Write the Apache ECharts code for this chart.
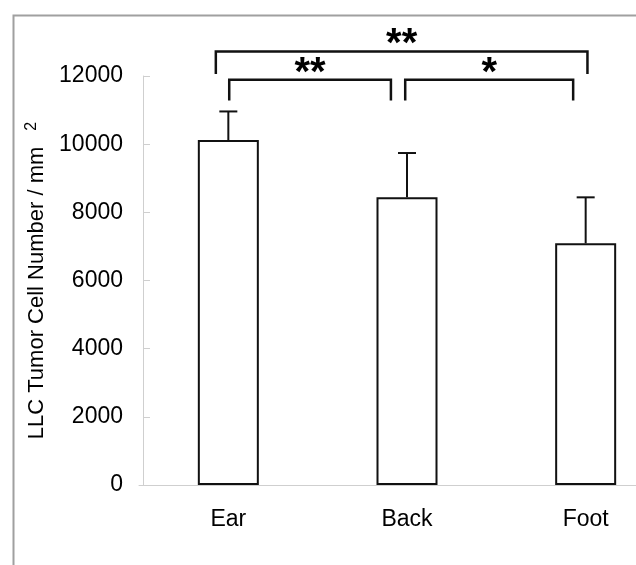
<!DOCTYPE html>
<html>
<head>
<meta charset="utf-8">
<script src="https://cdn.jsdelivr.net/npm/echarts@6/dist/echarts.min.js"></script>
<style>
  html, body { margin: 0; padding: 0; background: #fff; }
  #chart { width: 636px; height: 565px; }
</style>
</head>
<body>
<div id="chart"></div>
<script>
// 数据
const categories = ['Ear', 'Back', 'Foot']
const means = [10120, 8440, 7090]
const sds = [840, 1300, 1350]
const yTicks = { min: 0, max: 12000, interval: 2000 }

// 显著性括号（类目坐标 + 数值坐标）
const bracketFrom = [-0.07, 0.005, 0.99]
const bracketTo = [2.01, 0.91, 1.93]
const bracketY = [12720, 11890, 11890]
const bracketDrop = [12060, 11280, 11280]
const bracketLabels = ['**', '**', '*']

const FONT = 'Liberation Sans, Arial, sans-serif'

const chart = echarts.init(document.getElementById('chart'))

const option = {
  animation: false,
  backgroundColor: '#fff',
  graphic: [
    {
      type: 'rect',
      left: 11,
      top: 13,
      shape: { width: 700, height: 700 },
      style: { fill: 'none', stroke: '#a0a0a0', lineWidth: 2 },
      z: -1
    }
  ],
  grid: { left: 139, top: 76, width: 536, height: 409, outerBoundsMode: 'none', containLabel: false },
  xAxis: {
    type: 'category',
    data: categories,
    axisLine: { lineStyle: { color: '#cfcfcf', width: 1 } },
    axisTick: { inside: true, length: 6, lineStyle: { color: '#cfcfcf' } },
    axisLabel: { fontSize: 23, color: '#000', fontFamily: FONT, margin: 23 }
  },
  yAxis: {
    type: 'value',
    min: yTicks.min,
    max: yTicks.max,
    interval: yTicks.interval,
    offset: -4,
    splitLine: { show: false },
    axisLine: { show: true, lineStyle: { color: '#cfcfcf', width: 1 } },
    axisTick: { show: true, inside: true, length: 7, lineStyle: { color: '#cfcfcf' } },
    axisLabel: { fontSize: 23, color: '#000', fontFamily: FONT, margin: 20, formatter: v => String(v) },
    name: '{m|LLC Tumor Cell Number / mm}{s|2}',
    nameLocation: 'middle',
    nameGap: 86,
    nameRotate: 90,
    nameTextStyle: {
      rich: {
        m: { fontSize: 22, color: '#000', fontFamily: FONT, lineHeight: 28 },
        s: { fontSize: 16, color: '#000', fontFamily: FONT, lineHeight: 28, verticalAlign: 'top', padding: [0, 0, 0, 16] }
      }
    }
  },
  series: [
    {
      type: 'bar',
      data: means,
      barWidth: 61,
      itemStyle: { color: '#fff', borderColor: '#111', borderWidth: 2 },
      z: 2
    },
    {
      // 误差线（仅上方）
      type: 'custom',
      data: means.map((m, i) => [i, m, sds[i]]),
      z: 3,
      renderItem: (params, api) => {
        const i = api.value(0)
        const base = api.coord([i, api.value(1)])
        const top = api.coord([i, api.value(1) + api.value(2)])
        const style = { stroke: '#111', lineWidth: 2 }
        return {
          type: 'group',
          children: [
            { type: 'line', shape: { x1: base[0], y1: base[1], x2: top[0], y2: top[1] }, style },
            { type: 'line', shape: { x1: top[0] - 9, y1: top[1], x2: top[0] + 9, y2: top[1] }, style }
          ]
        }
      }
    },
    {
      // 显著性括号
      type: 'custom',
      clip: false,
      data: bracketLabels.map((l, i) => [0, bracketY[i], bracketFrom[i], bracketTo[i], bracketDrop[i]]),
      encode: { x: 0, y: 1 },
      z: 4,
      renderItem: (params, api) => {
        const idx = params.dataIndex
        const band = api.size([1, 0])[0]
        const x0 = api.coord([0, 0])[0]
        const xa = x0 + api.value(2) * band
        const xb = x0 + api.value(3) * band
        const y = api.coord([0, api.value(1)])[1]
        const yd = api.coord([0, api.value(4)])[1]
        return {
          type: 'group',
          children: [
            {
              type: 'polyline',
              shape: { points: [[xa, yd], [xa, y], [xb, y], [xb, yd]] },
              style: { stroke: '#111', lineWidth: 2.5, fill: 'none' }
            },
            {
              type: 'text',
              style: {
                text: bracketLabels[idx],
                x: (xa + xb) / 2,
                y: y + 14,
                align: 'center',
                verticalAlign: 'bottom',
                font: 'bold 40px ' + FONT,
                fill: '#000'
              }
            }
          ]
        }
      }
    }
  ]
}

chart.setOption(option)
window.addEventListener('resize', () => chart.resize())
</script>
</body>
</html>
